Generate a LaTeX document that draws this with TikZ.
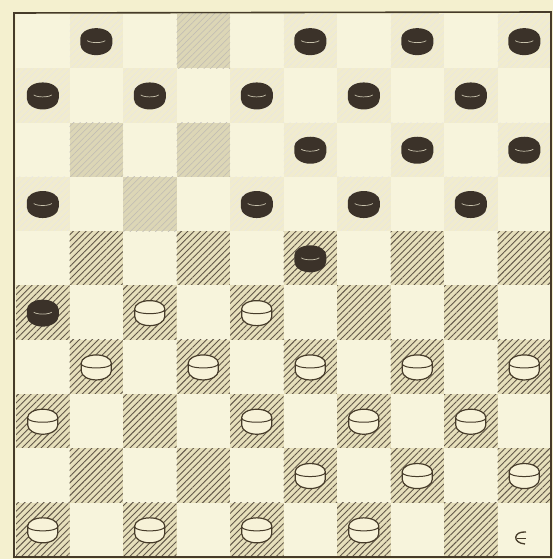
\documentclass[tikz,border=0pt]{standalone}
\usetikzlibrary{patterns.meta}
\definecolor{paper}{HTML}{F4F0CF}
\definecolor{lightsq}{HTML}{F7F4DC}
\definecolor{darksq}{HTML}{E6DFBB}
\definecolor{palesq}{HTML}{F1ECCE}
\definecolor{fadesq}{HTML}{DCD6B6}
\definecolor{ink}{HTML}{463B29}
\definecolor{blackpc}{HTML}{3B3229}
\definecolor{whitepc}{HTML}{F7F2D8}
\tikzset{
  bpiece/.pic={
    \fill[blackpc] (-16,-3) arc[start angle=180,end angle=360,x radius=16,y radius=11] -- (16,3) arc[start angle=0,end angle=180,x radius=16,y radius=10] -- cycle;
    \draw[whitepc!75!blackpc,line width=0.7] (-9,0.5) arc[start angle=200,end angle=340,x radius=9.6,y radius=3];
  },
  wpiece/.pic={
    \filldraw[fill=whitepc,draw=ink,line width=1.2] (-15,-4) arc[start angle=180,end angle=360,x radius=15,y radius=9] -- (15,4) arc[start angle=0,end angle=180,x radius=15,y radius=8] -- cycle;
    \draw[ink,line width=1] (-15,3) arc[start angle=180,end angle=360,x radius=15,y radius=4];
  },
  darkcell/.style={fill=darksq,postaction={pattern={Lines[angle=45,distance=4.5pt,line width=0.9pt]},pattern color=ink!85}},
  palecell/.style={fill=palesq,postaction={pattern={Lines[angle=45,distance=4.5pt,line width=0.5pt]},pattern color=ink!12}},
  fadecell/.style={fill=fadesq,postaction={pattern={Lines[angle=45,distance=4.5pt,line width=0.5pt]},pattern color=ink!35}},
  lightcell/.style={fill=lightsq},
  frame/.style={draw=ink,line width=1.6}
}
\begin{document}
\begin{tikzpicture}[x=1pt,y=1pt]
\useasboundingbox (0,0) rectangle (553,559);
\fill[paper] (0,0) rectangle (553,559);
\def\sx{53.5}
\def\sy{54.3}
% squares
\foreach \r in {0,...,9}{
  \foreach \c in {0,...,9}{
    \pgfmathtruncatemacro{\odd}{mod(\r+\c,2)}
    \ifnum\odd=1
      \ifnum\r<4
        \path[palecell] ({16+\sx*\c},{545-\sy*\r}) rectangle ({16+\sx*(\c+1)},{545-\sy*(\r+1)});
      \else
        \path[darkcell] ({16+\sx*\c},{545-\sy*\r}) rectangle ({16+\sx*(\c+1)},{545-\sy*(\r+1)});
      \fi
    \else
      \path[lightcell] ({16+\sx*\c},{545-\sy*\r}) rectangle ({16+\sx*(\c+1)},{545-\sy*(\r+1)});
    \fi
  }
}
% faded dark squares
\foreach \r/\c in {0/3,2/1,2/3,3/2}{
  \path[fadecell] ({16+\sx*\c},{545-\sy*\r}) rectangle ({16+\sx*(\c+1)},{545-\sy*(\r+1)});
}
% frame
\draw[frame] (14,2) -- (14,546) -- (551,547) -- (551,2) -- cycle;
% black pieces
\foreach \r/\c in {0/1,0/5,0/7,0/9,1/0,1/2,1/4,1/6,1/8,2/5,2/7,2/9,3/0,3/4,3/6,3/8,4/5,5/0}{
  \pic (bp-\r-\c) at ({16+\sx*(\c+0.5)},{545-\sy*(\r+0.5)}) {bpiece};
}
% white pieces
\foreach \r/\c in {5/2,5/4,6/1,6/3,6/5,6/7,6/9,7/0,7/4,7/6,7/8,8/5,8/7,8/9,9/0,9/2,9/4,9/6}{
  \pic (wp-\r-\c) at ({16+\sx*(\c+0.5)},{545-\sy*(\r+0.5)}) {wpiece};
}
% small mark
\coordinate (m1) at (526,27);
\coordinate (m2) at (525,15);
\draw[ink,line width=1.3] (m1) .. controls (513,28) and (512,16) .. (m2);
\draw[ink,line width=0.9] (517,21) -- (526,21);
\end{tikzpicture}
\end{document}
